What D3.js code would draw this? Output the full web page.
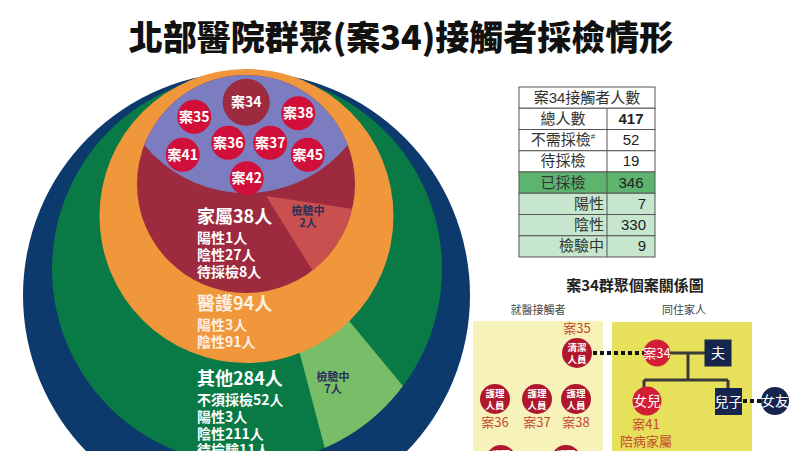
<!DOCTYPE html>
<html>
<head>
<meta charset="utf-8">
<script src="https://cdn.jsdelivr.net/npm/d3@7"></script>
<style>
  html, body { margin: 0; padding: 0; background: #fff; overflow: hidden; }
  svg { display: block; font-family: "Noto Sans CJK TC", "Noto Sans", sans-serif; }
</style>
</head>
<body>
<svg id="chart" width="800" height="451"></svg>
<script>
// -----------------------------
// Data
// -----------------------------
const titleText = "北部醫院群聚(案34)接觸者採檢情形";

// contact groups, inner to outer
const groupNames = ["家屬", "醫護", "其他"];
const groupTotals = [38, 94, 284];
const groupDetails = [
  ["陽性1人", "陰性27人", "待採檢8人"],
  ["陽性3人", "陰性91人"],
  ["不須採檢52人", "陽性3人", "陰性211人", "待檢驗11人"]
];
const pendingCounts = { "家屬": 2, "其他": 7 };

// confirmed cases inside the cluster bubble
const clusterCases = ["案34", "案35", "案38", "案36", "案37", "案41", "案45", "案42"];

// summary table
const tableTitle = "案34接觸者人數";
const tableLabels = ["總人數", "不需採檢", "待採檢", "已採檢", "陽性", "陰性", "檢驗中"];
const tableValues = [417, 52, 19, 346, 7, 330, 9];

// relation diagram
const relTitle = "案34群聚個案關係圖";
const relGroups = ["就醫接觸者", "同住家人"];
const staffCases = ["案35", "案36", "案37", "案38"];
const staffRoles = [["清潔", "人員"], ["護理", "人員"], ["護理", "人員"], ["護理", "人員"]];
const family = ["案34", "夫", "女兒", "兒子", "女友"];
const familyNotes = ["案41", "陪病家屬"];

// -----------------------------
// Layout (geometry / styles only)
// -----------------------------
const C = {
  navy: "#0c3a6c", green: "#097a45", lightGreen: "#78be68", orange: "#f0963b",
  red: "#9d2a3e", wedgeRed: "#c9504f", purple: "#7b7dc0", crimson: "#d0103a",
  ink: "#28305a"
};

const rings = [
  { cx: 246.5, cy: 295.5, r: 223.5, fill: C.navy },
  { cx: 247, cy: 269, r: 195, fill: C.green },
  { cx: 246.5, cy: 216, r: 147, fill: C.orange },
  { cx: 246, cy: 184, r: 109, fill: C.red }
];

const svg = d3.select("#chart");
const deg = Math.PI / 180;

// title
svg.append("text")
  .attr("x", 401).attr("y", 50)
  .attr("text-anchor", "middle")
  .attr("font-size", 34).attr("font-weight", 900)
  .attr("fill", "#111")
  .text(titleText);

// -----------------------------
// Nested circles
// -----------------------------
const defs = svg.append("defs");
defs.append("clipPath").attr("id", "clipGreen")
  .append("circle").attr("cx", rings[1].cx).attr("cy", rings[1].cy).attr("r", rings[1].r);
defs.append("clipPath").attr("id", "clipRed")
  .append("circle").attr("cx", rings[3].cx).attr("cy", rings[3].cy).attr("r", rings[3].r);

const g = svg.append("g");

function ring(i) {
  g.append("circle")
    .attr("cx", rings[i].cx).attr("cy", rings[i].cy).attr("r", rings[i].r)
    .attr("fill", rings[i].fill);
}

const wedgeArc = d3.arc().innerRadius(0).outerRadius(320);

function wedge(clipId, apex, a0, a1, fill) {
  g.append("g")
    .attr("clip-path", `url(#${clipId})`)
    .append("path")
    .attr("transform", `translate(${apex[0]},${apex[1]})`)
    .attr("fill", fill)
    .attr("d", wedgeArc({ startAngle: a0 * deg, endAngle: a1 * deg }));
}

ring(0);
ring(1);
// pending wedge of 其他 (drawn under the orange disc)
wedge("clipGreen", [264, 218], 140.4, 165.2, C.lightGreen);
ring(2);
ring(3);
// pending wedge of 家屬
wedge("clipRed", [266, 196], 98.5, 148, C.wedgeRed);
// cluster area
g.append("g")
  .attr("clip-path", "url(#clipRed)")
  .append("circle")
  .attr("cx", 246).attr("cy", 61).attr("r", 132)
  .attr("fill", C.purple);

// case bubbles
const bubbleSlots = [[0, -40.5], [-52, -26], [52, -29.5], [-18, 0], [24, 0], [-63.5, 12], [61.5, 12], [0.5, 35.5]];
const bx = d3.scaleLinear().domain([-100, 100]).range([146.2, 346.2]);
const by = d3.scaleLinear().domain([-100, 100]).range([42.8, 242.8]);
const bubbles = g.selectAll("g.bubble")
  .data(clusterCases.map((name, i) => ({ name, slot: bubbleSlots[i], main: i === 0 })))
  .join("g")
  .attr("class", "bubble")
  .attr("transform", d => `translate(${bx(d.slot[0])},${by(d.slot[1])})`);
bubbles.append("circle")
  .attr("r", d => d.main ? 23.5 : 17)
  .attr("fill", d => d.main ? C.red : C.crimson);
bubbles.append("text")
  .attr("text-anchor", "middle").attr("y", 5)
  .attr("font-size", 14).attr("font-weight", 700)
  .attr("fill", "#fff")
  .text(d => d.name);

// group labels
const labelBase = [223, 310, 385];
groupNames.forEach((name, i) => {
  const t = g.append("g").attr("fill", i === 1 ? "#fdf1e4" : "#fff").attr("font-weight", 700);
  t.append("text").attr("x", 197).attr("y", labelBase[i])
    .attr("font-size", 18).text(`${name}${groupTotals[i]}人`);
  t.selectAll("text.sub")
    .data(groupDetails[i])
    .join("text")
    .attr("class", "sub")
    .attr("x", 197)
    .attr("y", (d, j) => labelBase[i] + 20 + j * 16.8)
    .attr("font-size", 14)
    .text(d => d);
});

// pending labels
[["家屬", 308, 215], ["其他", 333, 381]].forEach(([key, x, y]) => {
  const t = g.append("g")
    .attr("text-anchor", "middle").attr("font-size", 11).attr("font-weight", 700)
    .attr("fill", C.ink);
  t.append("text").attr("x", x).attr("y", y).text("檢驗中");
  t.append("text").attr("x", x).attr("y", y + 12).text(`${pendingCounts[key]}人`);
});

// -----------------------------
// Summary table
// -----------------------------
const tbl = svg.append("g").attr("font-family", "'Liberation Sans', 'Noto Sans CJK TC', sans-serif");
const rowY = d3.scaleBand().domain(d3.range(8)).range([87, 257]);
const tL = 519, tM = 607, tR = 655;
const rowFill = i => i === 4 ? "#5db46f" : i > 4 ? "#c6e7cd" : "#fff";

tbl.selectAll("rect.row")
  .data(d3.range(8))
  .join("rect")
  .attr("class", "row")
  .attr("x", tL).attr("y", d => rowY(d))
  .attr("width", tR - tL).attr("height", rowY.bandwidth())
  .attr("fill", d => rowFill(d))
  .attr("stroke", "#555").attr("stroke-width", 1);
tbl.append("line")
  .attr("x1", tM).attr("x2", tM)
  .attr("y1", rowY(1)).attr("y2", 257)
  .attr("stroke", "#555");

const midY = i => rowY(i) + rowY.bandwidth() / 2 + 5;
tbl.append("text")
  .attr("x", (tL + tR) / 2).attr("y", midY(0))
  .attr("text-anchor", "middle").attr("font-size", 15).attr("fill", "#333")
  .text(tableTitle);
tableLabels.forEach((lab, k) => {
  const i = k + 1;
  const sub = i > 4;
  const lt = tbl.append("text")
    .attr("x", sub ? tM - 3 : (tL + tM) / 2).attr("y", midY(i))
    .attr("text-anchor", sub ? "end" : "middle")
    .attr("font-size", 15).attr("fill", "#333")
    .text(lab);
  if (lab === "不需採檢") {
    lt.append("tspan").attr("font-size", 8).attr("dy", -6).text("#");
  }
  tbl.append("text")
    .attr("x", sub ? tR - 9 : (tM + tR) / 2).attr("y", midY(i))
    .attr("text-anchor", sub ? "end" : "middle")
    .attr("font-size", 15).attr("fill", "#222")
    .attr("font-weight", i === 1 ? 700 : 400)
    .text(tableValues[k]);
});

// -----------------------------
// Relation diagram
// -----------------------------
const rel = svg.append("g");
rel.append("text")
  .attr("x", 635).attr("y", 291).attr("text-anchor", "middle")
  .attr("font-size", 15).attr("font-weight", 700).attr("fill", "#222")
  .text(relTitle);
rel.selectAll("text.grp")
  .data(relGroups)
  .join("text")
  .attr("class", "grp")
  .attr("x", (d, i) => [538, 684][i]).attr("y", 314)
  .attr("text-anchor", "middle").attr("font-size", 11).attr("fill", "#444")
  .text(d => d);

rel.append("rect").attr("x", 473).attr("y", 321).attr("width", 130).attr("height", 140).attr("fill", "#f6f2b9");
rel.append("rect").attr("x", 612).attr("y", 322).attr("width", 140).attr("height", 140).attr("fill", "#e7e05a");

// dotted links
rel.append("line").attr("x1", 593).attr("x2", 644).attr("y1", 353).attr("y2", 353)
  .attr("stroke", "#111").attr("stroke-width", 4).attr("stroke-dasharray", "4 3");
rel.append("line").attr("x1", 743).attr("x2", 763).attr("y1", 401).attr("y2", 401)
  .attr("stroke", "#111").attr("stroke-width", 4).attr("stroke-dasharray", "4 3");

// family tree lines
const tree = rel.append("g").attr("stroke", "#3a3a3a").attr("stroke-width", 3).attr("fill", "none");
tree.append("path").attr("d", "M660,353H706M688,353V380M644,380H728M644,380V390M728,380V390");

// staff circles
const staffPos = [[577, 353], [495, 399], [537, 399], [576, 399], [501, 460], [566, 460]];
const staff = rel.selectAll("g.staff")
  .data(staffPos.map((p, i) => ({ p, role: staffRoles[Math.min(i, 3)] })))
  .join("g")
  .attr("class", "staff")
  .attr("transform", d => `translate(${d.p[0]},${d.p[1]})`);
staff.append("circle").attr("r", 15).attr("fill", "#b0172d");
staff.each(function (d) {
  const g2 = d3.select(this).append("g")
    .attr("text-anchor", "middle").attr("font-size", 9.5).attr("font-weight", 700).attr("fill", "#fff");
  g2.append("text").attr("x", 0).attr("y", -2).text(d.role[0]);
  g2.append("text").attr("x", 0).attr("y", 9.5).text(d.role[1]);
});
const caseLabelPos = [[577, 333], [495, 427], [537, 427], [576, 427]];
rel.selectAll("text.case")
  .data(staffCases)
  .join("text")
  .attr("class", "case")
  .attr("x", (d, i) => caseLabelPos[i][0]).attr("y", (d, i) => caseLabelPos[i][1])
  .attr("text-anchor", "middle").attr("font-size", 13).attr("fill", "#c4482f")
  .text(d => d);

// family members
const famShape = [
  { x: 657, y: 353, kind: "circle", fill: "#d21f35", r: 13.5 },
  { x: 718, y: 353, kind: "rect", fill: "#16254d" },
  { x: 647, y: 401, kind: "circle", fill: "#d21f35", r: 14.5 },
  { x: 728.5, y: 401.5, kind: "rect", fill: "#16254d" },
  { x: 775, y: 401, kind: "circle", fill: "#16254d", r: 14 }
];
const fam = rel.selectAll("g.fam")
  .data(family.map((name, i) => ({ name, ...famShape[i] })))
  .join("g")
  .attr("class", "fam")
  .attr("transform", d => `translate(${d.x},${d.y})`);
fam.filter(d => d.kind === "circle").append("circle").attr("r", d => d.r).attr("fill", d => d.fill);
fam.filter(d => d.kind === "rect").append("rect")
  .attr("x", -13.5).attr("y", -13.5).attr("width", 27).attr("height", 27).attr("fill", d => d.fill);
fam.append("text")
  .attr("text-anchor", "middle").attr("y", 5)
  .attr("font-size", d => d.name === "案34" ? 13 : 14).attr("fill", "#fff")
  .text(d => d.name);

rel.selectAll("text.note")
  .data(familyNotes)
  .join("text")
  .attr("class", "note")
  .attr("x", 646).attr("y", (d, i) => [429, 446][i])
  .attr("text-anchor", "middle").attr("font-size", 13).attr("fill", "#c4482f")
  .text(d => d);
</script>
</body>
</html>
